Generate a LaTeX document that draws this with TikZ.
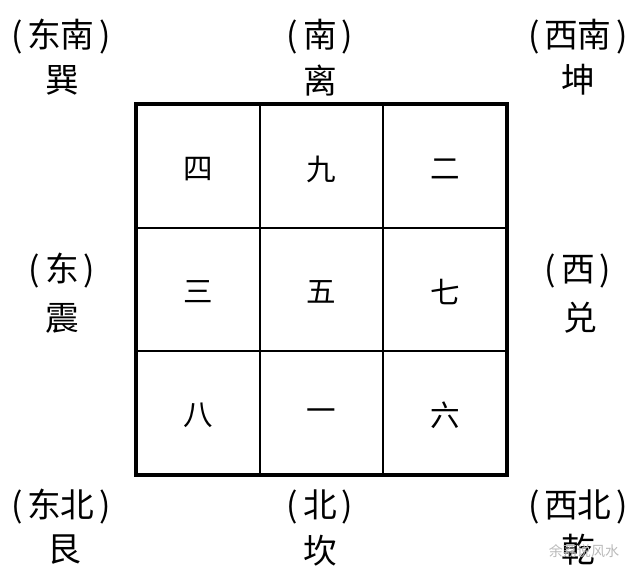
\documentclass[tikz,border=0pt]{standalone}
\usepackage{fontspec}
\newfontfamily\cjk{Noto Sans CJK SC}
\usepackage{tikz}
\usetikzlibrary{positioning}
\newcommand{\fw}[1]{(\hspace{0.14em}#1\hspace{0.14em})}
\tikzset{
    dir/.style={
           inner sep=0pt,
           font=\cjk\fontsize{24}{27}\selectfont
           },
    gua/.style={
           inner sep=0pt,
           font=\cjk\fontsize{24}{27}\selectfont
           },
    num/.style={
           inner sep=0pt,
           font=\cjk\fontsize{21}{24}\selectfont
           },
    frame/.style={
           line width=2.6pt
           },
    inner/.style={
           line width=1.2pt
           }
}

\begin{document}
\begin{tikzpicture}[x=0.025cm,y=-0.025cm]
   \useasboundingbox (0,0) rectangle (640,581);
   % the square
   \coordinate (nw) at (136,104);
   \coordinate (se) at (507,475);
   \draw[inner] (259.7,104) -- (259.7,475)
                (383.3,104) -- (383.3,475)
                (136,227.7) -- (507,227.7)
                (136,351.3) -- (507,351.3);
   \draw[frame] (nw) rectangle (se);
   % numbers
   \node[num] (n4) at (198,169) {四};
   \node[num] (n9) at (321,169) {九};
   \node[num] (n2) at (445,169) {二};
   \node[num] (n3) at (198,292) {三};
   \node[num] (n5) at (321,292) {五};
   \node[num] (n7) at (445,292) {七};
   \node[num] (n8) at (198,415) {八};
   \node[num] (n1) at (321,415) {一};
   \node[num] (n6) at (445,415) {六};
   % directions
   \node[dir] (se-d) at (61,37)  {\fw{东南}};
   \node[gua] (xun)  at (62,80)  {巽};
   \node[dir] (s-d)  at (320,37) {\fw{南}};
   \node[gua] (li)   at (320,81) {离};
   \node[dir] (sw-d) at (578,37) {\fw{西南}};
   \node[gua] (kun)  at (578,80) {坤};
   \node[dir] (e-d)  at (62,271) {\fw{东}};
   \node[gua] (zhen) at (62,318) {震};
   \node[dir] (w-d)  at (578,271) {\fw{西}};
   \node[gua] (dui)  at (580,318) {兑};
   \node[dir] (ne-d) at (61,507) {\fw{东北}};
   \node[gua] (gen)  at (64,550) {艮};
   \node[dir] (n-d)  at (320,507) {\fw{北}};
   \node[gua] (kan)  at (320,551) {坎};
   \node[dir] (nw-d) at (578,507) {\fw{西北}};
   \node[gua] (qian) at (578,550) {乾};
   \node[inner sep=0pt, text=gray!55, font=\cjk\fontsize{10}{11}\selectfont] (mark) at (584,551) {余荔说风水};
\end{tikzpicture}
\end{document}
